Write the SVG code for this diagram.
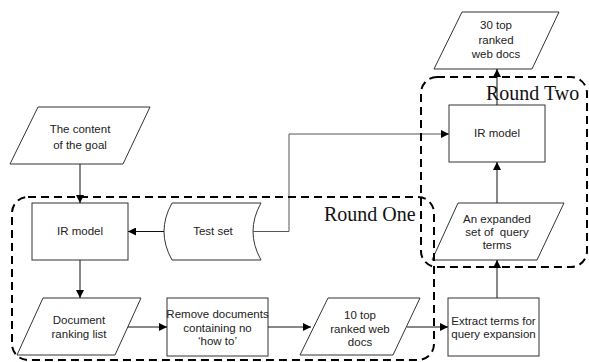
<svg xmlns="http://www.w3.org/2000/svg" width="589" height="362" viewBox="0 0 589 362">
<style>
.shape{fill:#fff;stroke:#333;stroke-width:1}
.lbl{font-family:"Liberation Sans",Arial,sans-serif;font-size:11.5px;fill:#222;text-anchor:middle}
.pre{white-space:pre}
.conn{fill:none;stroke:#111;stroke-width:1}
.grey{stroke:#555}
.round{fill:none;stroke:#000;stroke-width:2;stroke-dasharray:8 5}
.rtitle{font-family:"Liberation Serif","Times New Roman",serif;font-size:20px;fill:#111}
</style>
<defs>
<marker id="ah" viewBox="0 0 8 8" refX="8" refY="4" markerWidth="8" markerHeight="8" markerUnits="userSpaceOnUse" orient="auto">
<path d="M0,0 L8,4 L0,8 Z" fill="#000"/>
</marker>
</defs>
<rect width="589" height="362" fill="#fff"/>

<g id="goal">
<polygon class="shape" points="38,107 150,107 123,164 10,164"/>
<text class="lbl" x="80" y="133">The content</text>
<text class="lbl" x="80" y="149">of the goal</text>
</g>

<g id="ir1">
<rect class="shape" x="32" y="203" width="96" height="57"/>
<text class="lbl" x="80" y="235">IR model</text>
</g>

<g id="testset">
<path class="shape" d="M172,203 Q156,231.5 172,260 L261,260 Q245,231.5 261,203 Z"/>
<text class="lbl" x="213" y="235">Test set</text>
</g>

<g id="doclist">
<polygon class="shape" points="43,298 141,298 115,355 17,355"/>
<text class="lbl" x="79" y="324">Document</text>
<text class="lbl" x="79" y="338">ranking list</text>
</g>

<g id="remove">
<rect class="shape" x="167" y="298" width="101" height="58"/>
<text class="lbl" x="217.5" y="318">Remove documents</text>
<text class="lbl" x="217.5" y="332">containing no</text>
<text class="lbl" x="217.5" y="345">‘how to’</text>
</g>

<g id="top10">
<polygon class="shape" points="328,298 420,298 393,355 300,355"/>
<text class="lbl" x="360" y="319">10 top</text>
<text class="lbl" x="360" y="333">ranked web</text>
<text class="lbl" x="360" y="346">docs</text>
</g>

<g id="extract">
<rect class="shape" x="448" y="298" width="91" height="58"/>
<text class="lbl" x="493.5" y="325">Extract terms for</text>
<text class="lbl" x="493.5" y="338">query expansion</text>
</g>

<g id="expanded">
<polygon class="shape" points="458,203 564,203 537,260 432,260"/>
<text class="lbl" x="497" y="223">An expanded</text>
<text class="lbl pre" x="497" y="236" xml:space="preserve">set of  query</text>
<text class="lbl" x="497" y="249">terms</text>
</g>

<g id="ir2">
<rect class="shape" x="449" y="105" width="96" height="57"/>
<text class="lbl" x="497" y="137">IR model</text>
</g>

<g id="top30">
<polygon class="shape" points="462,12 559,12 532,69 434,69"/>
<text class="lbl" x="496" y="29">30 top</text>
<text class="lbl" x="496" y="44">ranked</text>
<text class="lbl" x="496" y="58">web docs</text>
</g>

<g id="connectors">
<line class="conn" x1="80" y1="164" x2="80" y2="203" marker-end="url(#ah)"/>
<line class="conn" x1="164" y1="231.5" x2="128" y2="231.5" marker-end="url(#ah)"/>
<line class="conn" x1="80" y1="260" x2="80" y2="298" marker-end="url(#ah)"/>
<line class="conn" x1="128" y1="327" x2="167" y2="327" marker-end="url(#ah)"/>
<line class="conn" x1="268" y1="327" x2="311" y2="327" marker-end="url(#ah)"/>
<line class="conn" x1="407" y1="327" x2="448" y2="327" marker-end="url(#ah)"/>
<line class="conn" x1="497" y1="298" x2="497" y2="260" marker-end="url(#ah)"/>
<line class="conn" x1="497" y1="203" x2="497" y2="162" marker-end="url(#ah)"/>
<line class="conn" x1="497" y1="105" x2="497" y2="69" marker-end="url(#ah)"/>
<polyline class="conn grey" points="253,231.5 289,231.5 289,134 449,134" marker-end="url(#ah)"/>
</g>

<g id="round-one">
<rect class="round" x="12" y="197" width="422" height="163" rx="16" ry="16"/>
<text class="rtitle" x="324" y="221">Round One</text>
</g>

<g id="round-two">
<rect class="round" x="421" y="77" width="166" height="190" rx="16" ry="16"/>
<text class="rtitle" x="486" y="100">Round Two</text>
</g>
</svg>
